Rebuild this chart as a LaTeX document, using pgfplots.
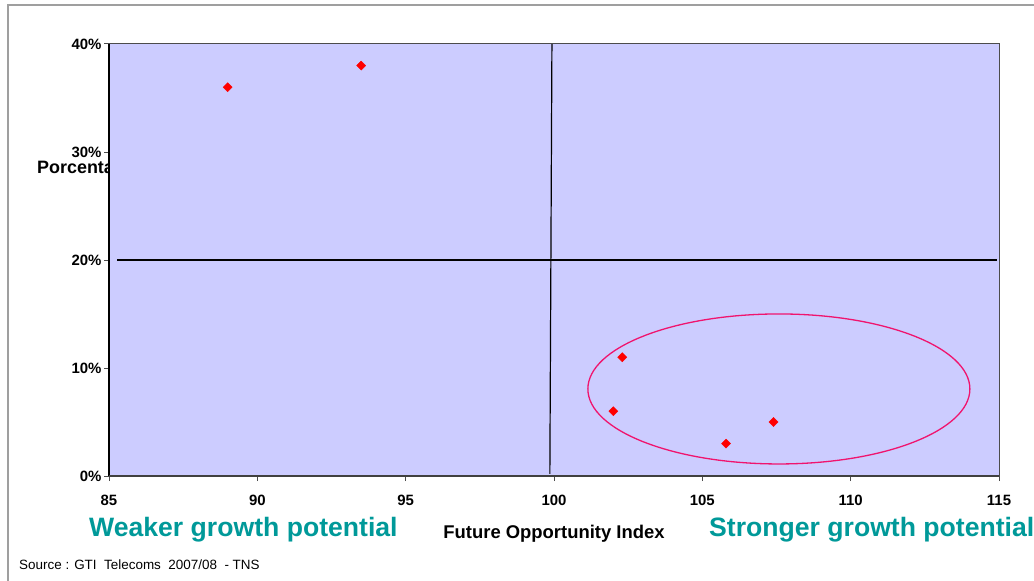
\documentclass[border=0pt]{standalone}
\usepackage{pgfplots}
\pgfplotsset{compat=1.18}
\usepackage{fontspec}
\setmainfont{Liberation Sans}
\definecolor{plotbg}{RGB}{204,204,255}
\definecolor{tealtxt}{RGB}{0,153,153}
\definecolor{ellc}{RGB}{240,20,110}
\begin{document}
\begin{tikzpicture}[x=1bp,y=1bp]
\useasboundingbox (0,0) rectangle (1034,-581);
\draw[gray!75, line width=1.5bp] (8,-581) -- (8,-5) -- (1034,-5);
\node[anchor=base west, font=\bfseries\fontsize{18}{21}\selectfont, inner sep=0] at (37,-174) {Porcentaje};
\begin{axis}[
  at={(109bp,-476bp)}, anchor=south west,
  width=890bp, height=432bp, scale only axis,
  xmin=85, xmax=115, ymin=0, ymax=40,
  xtick={85,90,...,115}, ytick={0,10,20,30,40},
  yticklabel={\pgfmathprintnumber{\tick}\%},
  axis background/.style={fill=plotbg},
  axis line style={draw=none},
  tick pos=left,
  tick align=outside, major tick length=5bp,
  tick style={black!70, line width=1bp},
  ticklabel style={font=\bfseries\fontsize{15}{17}\selectfont},
  /pgf/number format/assume math mode=true,
  xticklabel style={yshift=-11bp},
  yticklabel style={xshift=1bp},
  clip=false,
]
\draw[black, line width=1.2bp] (axis cs:99.93,40) -- (axis cs:99.86,0.2);
\draw[black, line width=1.2bp] (axis cs:85.27,20) -- (axis cs:114.93,20);
\draw[ellc, line width=1.3bp] (axis cs:107.58,8.06) ellipse [x radius=191bp, y radius=75bp];
\addplot[only marks, mark=square*, mark size=3.2bp, mark options={rotate=45, fill=red, draw=red}, red]
  coordinates {(89,36) (93.5,38) (102.3,11) (102,6) (105.8,3) (107.4,5)};
\draw[black, line width=1.2bp] (rel axis cs:0,0) -- (rel axis cs:0,1);
\draw[black!70, line width=1bp] (rel axis cs:0,1) -- (rel axis cs:1,1) -- (rel axis cs:1,0);
\draw[black!75, line width=2bp] (rel axis cs:0,0) -- (rel axis cs:1,0);
\end{axis}
\node[anchor=base west, font=\bfseries\fontsize{26.7}{30}\selectfont, text=tealtxt, inner sep=0] at (89,-536) {Weaker growth potential};
\node[anchor=base west, font=\bfseries\fontsize{26.7}{30}\selectfont, text=tealtxt, inner sep=0] at (709,-536) {Stronger growth potential};
\node[anchor=base, font=\bfseries\fontsize{18.5}{21}\selectfont, inner sep=0] at (554,-538) {Future Opportunity Index};
\node[anchor=base west, font=\fontsize{13.5}{15}\selectfont, inner sep=0] at (19,-569) {Source : GTI\ \ Telecoms\ \ 2007/08\ \ - TNS};
\end{tikzpicture}
\end{document}
